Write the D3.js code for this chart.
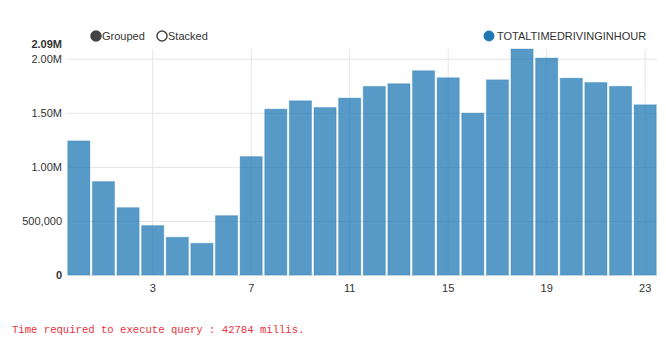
<!DOCTYPE html>
<meta charset="utf-8">
<style>
  body { margin: 0; background: #fff; }
  svg text { font-family: "Liberation Sans", Arial, sans-serif; fill: #333; }
  .tick line { stroke: #e5e5e5; }
  .domain { display: none; }
  .legend text { font-size: 11px; }
  .maxmin { font-weight: bold; }
  .msg { font-family: "Liberation Mono", "DejaVu Sans Mono", monospace; font-size: 10.6px; fill: #e8323c; }
</style>
<body>
<svg width="666" height="354"></svg>
<script src="https://d3js.org/d3.v7.min.js"></script>
<script>

var hours = d3.range(24);
var seriesName = "TOTALTIMEDRIVINGINHOUR";
var totals = [1240000, 864000, 623000, 457000, 349000, 293000, 549000, 1095000,
              1534000, 1611000, 1549000, 1636000, 1744000, 1769000, 1889000, 1824000,
              1497000, 1805000, 2090000, 2006000, 1820000, 1780000, 1745000, 1574000];
var xTicks = [3, 7, 11, 15, 19, 23];
var yTicks = [0, 500000, 1000000, 1500000, 2000000];
var yMax = 2090000;

var svg = d3.select("svg"),
    margin = {top: 49, right: 9, bottom: 79, left: 67},
    width = +svg.attr("width") - margin.left - margin.right,
    height = +svg.attr("height") - margin.top - margin.bottom;

var g = svg.append("g").attr("transform", "translate(" + margin.left + "," + margin.top + ")");

var x = d3.scaleBand()
    .domain(hours)
    .range([0, width])
    .paddingInner(0.1)
    .paddingOuter(0.03);

var y = d3.scaleLinear()
    .domain([0, yMax])
    .range([height, 0]);

var fmt = function(d) {
  return d >= 1000000 ? d3.format(".2f")(d / 1e6) + "M" : d3.format(",")(d);
};

// gridlines + axes
var yAxis = g.append("g")
    .call(d3.axisLeft(y).tickValues(yTicks).tickSize(-width).tickPadding(5).tickFormat(fmt));
yAxis.selectAll("text").style("font-size", "11px");
yAxis.selectAll(".tick").filter(function(d) { return d === 0; }).select("text").attr("class", "maxmin");

g.append("text")
    .attr("class", "maxmin")
    .attr("x", -5)
    .attr("y", y(yMax) - 1)
    .attr("text-anchor", "end")
    .style("font-size", "11px")
    .text(fmt(yMax));

var xAxis = g.append("g")
    .attr("transform", "translate(0," + height + ")")
    .call(d3.axisBottom(x).tickValues(xTicks).tickSize(-height).tickPadding(9));
xAxis.selectAll("text").style("font-size", "11px");

// bars
g.selectAll(".bar")
    .data(totals)
    .enter().append("rect")
      .attr("class", "bar")
      .attr("x", function(d, i) { return x(hours[i]); })
      .attr("y", function(d) { return y(d); })
      .attr("width", x.bandwidth())
      .attr("height", function(d) { return height - y(d); })
      .attr("fill", "#1f77b4")
      .attr("fill-opacity", 0.75)
      .attr("stroke", "#1f77b4")
      .attr("stroke-opacity", 0.3);

// controls
var controls = svg.append("g").attr("class", "legend").attr("transform", "translate(0,36)");
[{label: "Grouped", on: true, cx: 96}, {label: "Stacked", on: false, cx: 162}].forEach(function(c) {
  controls.append("circle")
      .attr("cx", c.cx).attr("cy", 0).attr("r", 5)
      .attr("fill", c.on ? "#444" : "#fff")
      .attr("stroke", "#444").attr("stroke-width", 1.5);
  controls.append("text")
      .attr("x", c.cx + 6).attr("y", 4)
      .text(c.label);
});

// series legend
var legend = svg.append("g").attr("class", "legend").attr("transform", "translate(489,36)");
legend.append("circle").attr("r", 5).attr("fill", "#1f77b4").attr("stroke", "#1f77b4");
legend.append("text").attr("x", 8).attr("y", 4).text(seriesName);

svg.append("text")
    .attr("class", "msg")
    .attr("x", 12)
    .attr("y", 333)
    .text("Time required to execute query : 42784 millis.");

</script>
</body>
